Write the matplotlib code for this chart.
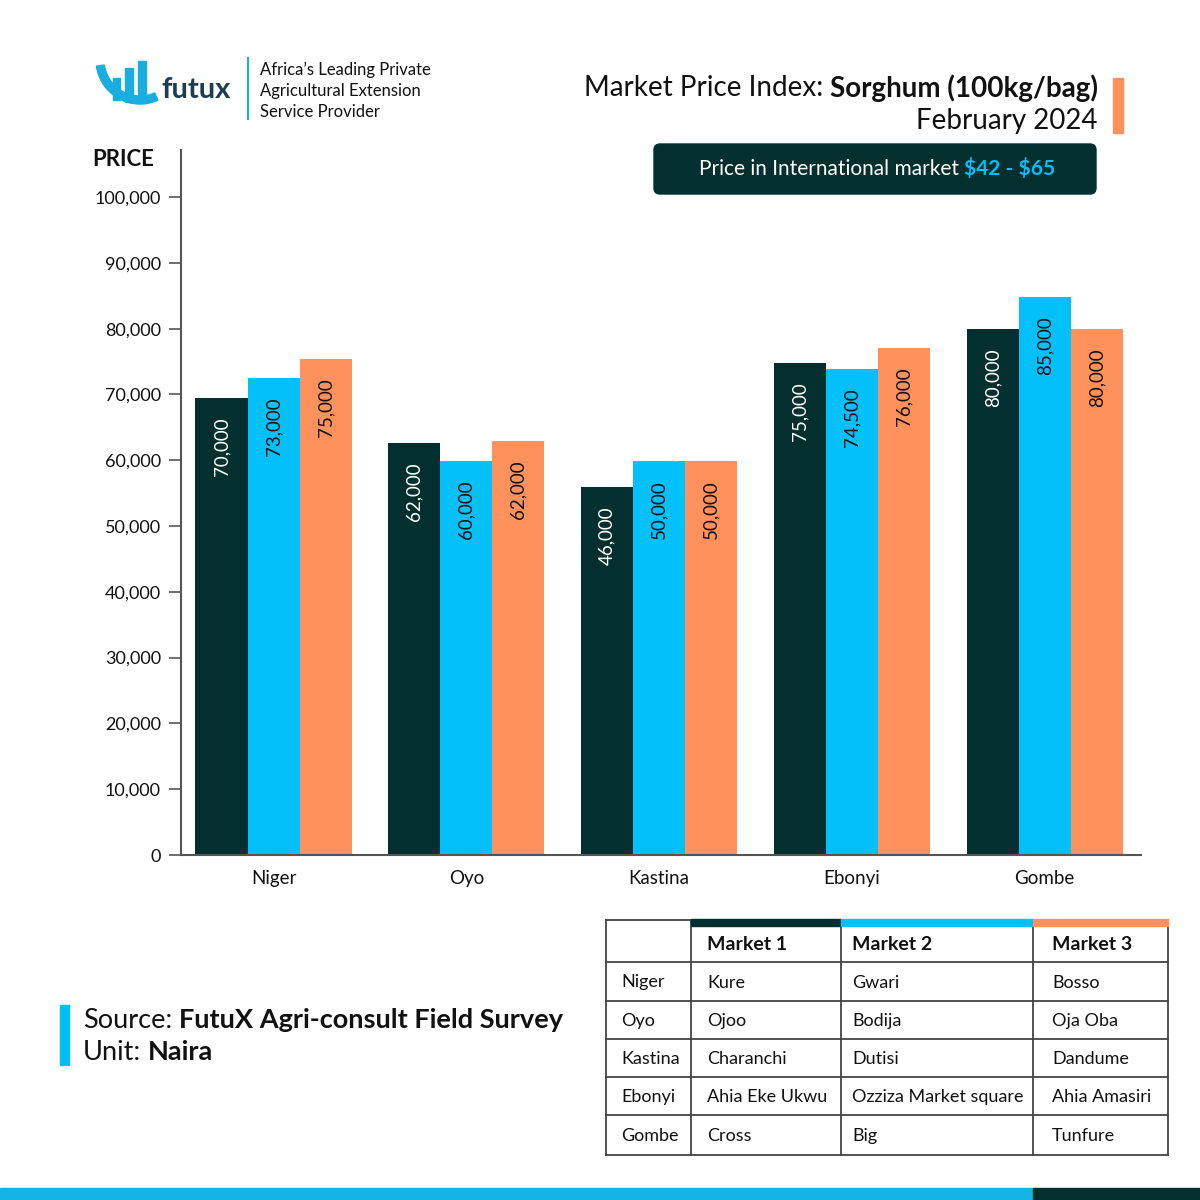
import matplotlib
matplotlib.use('Agg')
import matplotlib.pyplot as plt
from matplotlib.patches import Rectangle, FancyBboxPatch, Wedge
import numpy as np

# chart data (bar heights as drawn, printed labels as shown)
states = ['Niger', 'Oyo', 'Kastina', 'Ebonyi', 'Gombe']
market1 = [69500, 62600, 55900, 74800, 79900]
market2 = [72500, 59900, 59900, 73900, 84800]
market3 = [75400, 62900, 59900, 77100, 79900]
labels1 = ['70,000', '62,000', '46,000', '75,000', '80,000']
labels2 = ['73,000', '60,000', '50,000', '74,500', '85,000']
labels3 = ['75,000', '62,000', '50,000', '76,000', '80,000']
yticks = list(range(0, 100001, 10000))

# market names table
markets_header = ['Market 1', 'Market 2', 'Market 3']
m1_names = ['Kure', 'Ojoo', 'Charanchi', 'Ahia Eke Ukwu', 'Cross']
m2_names = ['Gwari', 'Bodija', 'Dutisi', 'Ozziza Market square', 'Big']
m3_names = ['Bosso', 'Oja Oba', 'Dandume', 'Ahia Amasiri', 'Tunfure']

DARK = '#03302f'
BLUE = '#03c0fb'
ORANGE = '#ff915c'
TEXT = '#111111'

plt.rcParams['font.family'] = ['Lato', 'DejaVu Sans']

fig = plt.figure(figsize=(12, 12), dpi=100)
fig.patch.set_facecolor('white')

# overlay in pixel coordinates for header, footer and table
ov = fig.add_axes([0, 0, 1, 1])
ov.set_xlim(0, 1200)
ov.set_ylim(1200, 0)
ov.axis('off')

renderer = fig.canvas.get_renderer()


def mixed(x, y, parts, size, ha='left'):
    """Draw one line made of several styled pieces."""
    gap = 0.26 * size * 100 / 72
    objs, widths = [], []
    for s, wt, c in parts:
        t = ov.text(0, y, s, fontsize=size, fontweight=wt, color=c, va='center')
        objs.append(t)
        widths.append(t.get_window_extent(renderer).width)
    total = sum(widths) + gap * (len(parts) - 1)
    if ha == 'right':
        start = x - total
    elif ha == 'center':
        start = x - total / 2
    else:
        start = x
    for t, wd in zip(objs, widths):
        t.set_x(start)
        start += wd + gap


# logo
ov.add_patch(Wedge((140, 60), 44, 66, 172, width=8, color='#1aaee0'))
ov.add_patch(Rectangle((113, 78), 7, 22, color='#1aaee0'))
ov.add_patch(Rectangle((125, 68), 8, 34, color='#1aaee0'))
ov.add_patch(Rectangle((138, 61), 8, 42, color='#1aaee0'))
ov.text(161, 90, 'futux', fontsize=21, fontweight='bold', color='#1d3e4e', va='center')
ov.plot([248, 248], [58, 119], color='#1aaee0', lw=1.5)
for i, line in enumerate(['Africa\u2019s Leading Private', 'Agricultural Extension',
                          'Service Provider']):
    ov.text(260, 70 + 21 * i, line, fontsize=12, color=TEXT, va='center')

# title
mixed(1098, 88, [('Market Price Index:', 'normal', TEXT),
                 ('Sorghum (100kg/bag)', 'bold', TEXT)], 20, ha='right')
ov.text(1098, 121, 'February 2024', fontsize=20, color=TEXT, ha='right', va='center')
ov.add_patch(Rectangle((1113, 78), 10, 55, color=ORANGE))

ov.add_patch(FancyBboxPatch((654, 144), 442, 50,
                            boxstyle='round,pad=0,rounding_size=6', color=DARK))
mixed(877, 169, [('Price in International market', 'normal', 'white'),
                 ('\\$42 - \\$65', 'bold', BLUE)], 15, ha='center')

ov.text(92, 159, 'PRICE', fontsize=16, fontweight='bold', color=TEXT, va='center')

# bar chart
ax = fig.add_axes([181 / 1200, 1 - 855 / 1200, 960 / 1200, 705 / 1200])
ax.set_facecolor('none')
x = np.arange(len(states))
w = 0.27
series = [(-1, market1, labels1, DARK, 'white'),
          (0, market2, labels2, BLUE, TEXT),
          (1, market3, labels3, ORANGE, TEXT)]
for off, vals, labs, col, tc in series:
    bars = ax.bar(x + off * w, vals, w, color=col)
    for b, lab in zip(bars, labs):
        ax.annotate(lab, (b.get_x() + b.get_width() / 2, b.get_height()),
                    xytext=(0, -14), textcoords='offset points', rotation=90,
                    ha='center', va='top', color=tc, fontsize=13.5)

ax.set_xlim(-0.48, 4.5)
ax.set_ylim(0, 107150)
ax.set_yticks(yticks)
ax.set_yticklabels([f'{v:,}' for v in yticks], fontsize=13, color=TEXT)
ax.set_xticks(x)
ax.set_xticklabels(states, fontsize=13.5, color=TEXT)
ax.tick_params(axis='y', length=8.5, width=1.2, color='#555555', pad=6)
ax.tick_params(axis='x', length=0, pad=11)
for s in ['top', 'right']:
    ax.spines[s].set_visible(False)
for s in ['left', 'bottom']:
    ax.spines[s].set_color('#555555')
    ax.spines[s].set_linewidth(1.5)

# source block
ov.add_patch(Rectangle((60, 1005), 9, 60, color='#00bff3'))
mixed(83, 1020, [('Source:', 'normal', TEXT),
                 ('FutuX Agri-consult Field Survey', 'bold', TEXT)], 19.5)
mixed(83, 1052, [('Unit:', 'normal', TEXT), ('Naira', 'bold', TEXT)], 19.5)

# market table
col_edges = [606, 691, 841, 1033, 1168]
row_edges = [920, 962, 1001, 1039, 1077, 1115, 1155]
text_x = [621, 707, 852, 1052]
line_c = '#444444'
for cx in col_edges:
    ov.plot([cx, cx], [row_edges[0], row_edges[-1]], color=line_c, lw=1.3)
for ry in row_edges:
    ov.plot([col_edges[0], col_edges[-1]], [ry, ry], color=line_c, lw=1.3)
for i, c in enumerate([DARK, BLUE, ORANGE]):
    ov.add_patch(Rectangle((col_edges[i + 1], 919), col_edges[i + 2] - col_edges[i + 1], 7,
                           color=c, zorder=5))
for j, h in enumerate(markets_header):
    ov.text(text_x[j + 1], 944, h, fontsize=14, fontweight='bold', color=TEXT, va='center')
for i, st in enumerate(states):
    yc = (row_edges[i + 1] + row_edges[i + 2]) / 2 + 1
    for j, val in enumerate([st, m1_names[i], m2_names[i], m3_names[i]]):
        ov.text(text_x[j], yc, val, fontsize=13, color=TEXT, va='center')

# bottom stripe
ov.add_patch(Rectangle((0, 1188), 1033, 12, color='#13b4e4'))
ov.add_patch(Rectangle((1033, 1188), 167, 12, color=DARK))

fig.savefig('out.png', dpi=100)
